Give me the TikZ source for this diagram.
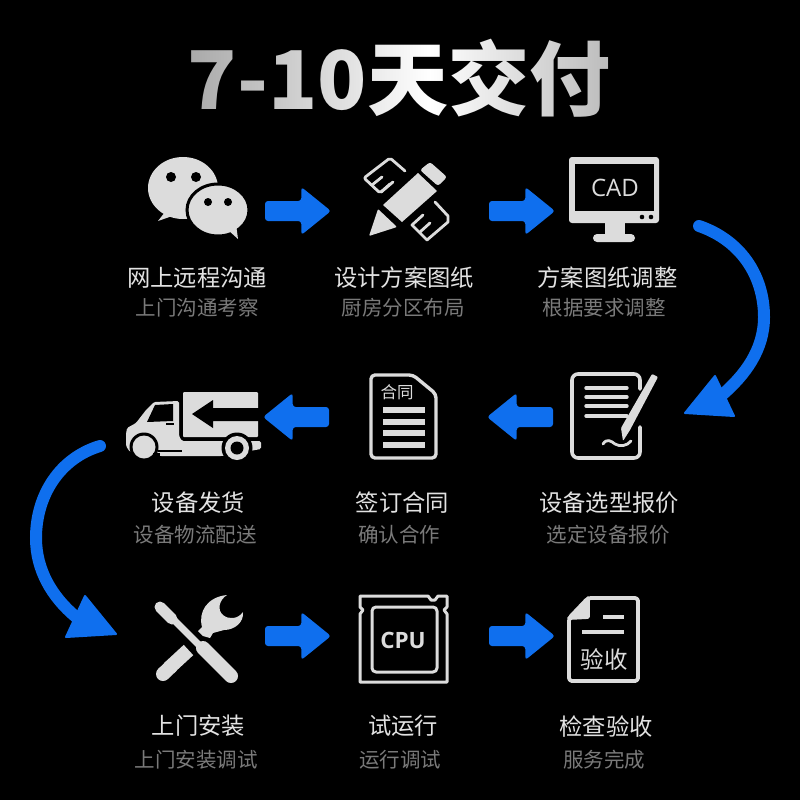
\documentclass[tikz,border=0pt]{standalone}
\usepackage{fontspec}
\setmainfont{Noto Sans CJK SC}
\newfontfamily\latinsans{Open Sans}
\usetikzlibrary{fadings,calc}
\definecolor{iconc}{HTML}{DCDCDC}
\definecolor{flow}{HTML}{0F6FEE}
\definecolor{maintxt}{HTML}{E2E2E2}
\definecolor{subtxt}{HTML}{7A7A7A}
\tikzfading[name=titleleft,left color=transparent!65,right color=transparent!100]
\tikzfading[name=titleright,left color=transparent!100,right color=transparent!72]
\tikzset{
 mainlabel/.style={text=maintxt,font=\fontsize{23.3}{26}\selectfont,inner sep=0pt},
 sublabel/.style={text=subtxt,font=\fontsize{20.5}{24}\selectfont,inner sep=0pt},
 flowblock/.style={fill=flow,rounded corners=3pt},
 bendarrow/.style={draw=flow,line width=12pt,line cap=round},
 bendhead/.style={fill=flow,draw=flow,line width=2pt,line join=round},
 iconfill/.style={fill=iconc},
 iconline/.style={draw=iconc,line width=3.2pt,line join=round,line cap=round},
 cutout/.style={fill=black}
}
\newcommand{\flowarrow}[2]{%
 \path (#1) -- (#2) coordinate[pos=.55] (hb);
 \fill[flowblock] ($(#1)!10pt!90:(#2)$) -- ($(hb)!10pt!90:(#2)$) -- ($(hb)!24pt!90:(#2)$) -- (#2) -- ($(hb)!24pt!-90:(#2)$) -- ($(hb)!10pt!-90:(#2)$) -- ($(#1)!10pt!-90:(#2)$) -- cycle;}
\begin{document}
\begin{tikzpicture}[x=1pt,y=-1pt]
\useasboundingbox (0,0) rectangle (800,800);
\fill[black] (0,0) rectangle (800,800);
% title
\node[text=white,font=\fontsize{81}{88}\bfseries\selectfont,inner sep=0pt] (title) at (399,78) {7-10天交付};
\fill[black,path fading=titleleft] (180,30) rectangle (430,130);
\fill[black,path fading=titleright] (430,30) rectangle (620,130);

% anchors of the connectors
\coordinate (a1s) at (265,211); \coordinate (a1e) at (331,211);
\coordinate (a2s) at (489,211); \coordinate (a2e) at (555,211);
\coordinate (a3s) at (553,417); \coordinate (a3e) at (487,417);
\coordinate (a4s) at (329,417); \coordinate (a4e) at (263,417);
\coordinate (a5s) at (265,636); \coordinate (a5e) at (331,636);
\coordinate (a6s) at (489,636); \coordinate (a6e) at (555,636);
\coordinate (b1s) at (699,226); \coordinate (b1e) at (722,395);
\coordinate (b2s) at (100,446); \coordinate (b2e) at (76,617);
\flowarrow{a1s}{a1e}
\flowarrow{a2s}{a2e}
\flowarrow{a3s}{a3e}
\flowarrow{a4s}{a4e}
\flowarrow{a5s}{a5e}
\flowarrow{a6s}{a6e}
\draw[bendarrow] (b1s) .. controls (740,240) and (764,275) .. (764,317) .. controls (764,350) and (745,375) .. (b1e);
\fill[bendhead] (715,376) -- (685,413) -- (734,416) -- cycle;
\draw[bendarrow] (b2s) .. controls (60,458) and (36,495) .. (36,538) .. controls (36,570) and (52,597) .. (b2e);
\fill[bendhead] (85,596) -- (66,637) -- (116,634) -- cycle;

% wechat
\fill[iconfill] (183,188) ellipse [x radius=35,y radius=31];
\fill[iconfill] (165,212) -- (158,221) -- (178,214) -- cycle;
\fill[cutout] (171,177) circle (5); \fill[cutout] (196,177) circle (5);
\draw[iconfill,draw=black,line width=3pt] (218,210) ellipse [x radius=31,y radius=26];
\fill[iconfill] (228,230) -- (238,239) -- (236,224) -- cycle;
\fill[cutout] (208,202) circle (4); \fill[cutout] (228,202) circle (4);

% pencil and rulers
\fill[iconfill,rounded corners=1pt] (369,236) -- (378,209) -- (397,227) -- cycle;
\fill[iconfill] (383,205) -- (402,222) -- (437,191) -- (418,173) -- cycle;
\fill[iconfill,rounded corners=2.5pt] (420,170) -- (430,162) -- (447,177) -- (438,186) -- cycle;
\draw[iconline,line width=2.8pt,rounded corners=2pt] (405,171) -- (390,158) -- (364,178) -- (380,193) -- (393,182);
\draw[iconline,line width=2.8pt] (372,185) -- (382,177) (381,192) -- (390,184);
\draw[iconline,line width=2.8pt] (435,202) -- (448,216) -- (448,222) -- (427,240) -- (412,225) -- (423,215);
\draw[iconline,line width=2.8pt] (420,232) -- (430,223);

% monitor
\fill[iconfill,rounded corners=3pt] (569,157) rectangle (659,223);
\fill[cutout] (575,164) rectangle (654,211);
\fill[iconfill] (605,222) rectangle (625,236);
\fill[iconfill,rounded corners=4pt] (593,234) rectangle (635,242);
\fill[cutout] (642,217) circle (2.3); \fill[cutout] (651,217) circle (2.3);
\node[text=iconc,font=\latinsans\fontsize{24}{26}\selectfont,inner sep=0pt] (cad) at (615,188) {CAD};

% quotation document with pen
\draw[iconline,line width=3.6pt,rounded corners=6pt] (640,389) -- (640,374) -- (572,374) -- (572,458) -- (640,458) -- (640,427);
\foreach \yy in {388,397,406,416} \draw[iconline,line width=3.4pt] (586,\yy) -- (627,\yy);
\fill[iconfill,rounded corners=1pt] (652,374) -- (658,377) -- (630,430) -- (623,441) -- (621,428) -- cycle;
\draw[iconline,line width=2.8pt] (603,444) .. controls (607,438) and (611,441) .. (615,444) .. controls (620,447) and (627,446) .. (631,441);

% contract
\draw[iconline,line width=3.4pt,rounded corners=4pt] (371,375) -- (413,375) -- (436,394) -- (436,458) -- (371,458) -- cycle;
\node[text=iconc,font=\fontsize{16.5}{18}\selectfont,inner sep=0pt] (hetong) at (397,392) {合同};
\foreach \yy in {410,422,433,445} \fill[iconfill] (383,\yy-3.2) rectangle (425,\yy+3.2);

% truck
\fill[iconfill,rounded corners=1pt] (183,392) rectangle (258,437);
\fill[cutout] (192,414) -- (213,400) -- (213,408) -- (259,408) -- (259,421) -- (213,421) -- (213,428) -- cycle;
\fill[iconfill,rounded corners=1.5pt] (126,434) -- (127,428) -- (136,423) -- (146,410) -- (154,402) -- (179,401) -- (179,436) -- (182,441) -- (261,441) -- (261,449) -- (222,456) -- (160,456) -- (130,452) -- (126,446) -- cycle;
\fill[cutout] (147,422) -- (155,405) -- (173,404) -- (173,421) -- cycle;
\fill[cutout] (166,422.5) rectangle (174,425);
\fill[cutout] (144,447) circle (14.5);
\fill[iconfill] (144,447) circle (11.5);
\fill[cutout] (237,448) circle (15.5);
\fill[iconfill] (237,448) circle (12);
\fill[cutout] (237,448) circle (6.5);
\draw[black,line width=1.5pt] (158,451) -- (182,451);
\fill[cutout] (153,456) rectangle (160,453);

% tools
\draw[iconc,line width=14pt] (169,668) -- (188.5,650);
\fill[iconfill] (163,674) circle (7);
\draw[iconc,line width=14pt] (163,674) -- (172,665.5);
\fill[iconfill] (198,631) -- (202,627) .. controls (198,612) and (207,597) .. (227,595) .. controls (219,600) and (217,610) .. (223,615) .. controls (229,620) and (238,619) .. (243,612) .. controls (244,622) and (235,630) .. (224,630) -- (213,633) -- (210,638) -- (203,636) -- cycle;
\draw[iconc,line width=11pt,line cap=round] (160,607) -- (172,619);
\draw[iconc,line width=7pt] (170,616) -- (204,650);
\draw[iconc,line width=14pt,line cap=round] (203,648) -- (231,676);

% cpu
\draw[iconline,line width=3pt,line cap=butt] (360,596) -- (428,596) -- (431,600) -- (435,600) -- (438,596) -- (447,596) -- (447,607) -- (444,610) -- (447,614) -- (447,682) -- (360,682) -- (360,614) -- (363,610) -- (360,607) -- cycle;
\draw[iconline,line width=3pt,rounded corners=4pt] (372,607) rectangle (437,672);
\node[text=iconc,font=\latinsans\bfseries\fontsize{22.5}{24}\selectfont,inner sep=0pt] (cpu) at (403,640) {CPU};

% acceptance document
\draw[iconline,line width=3.8pt,rounded corners=3pt] (588,598) -- (638,598) -- (638,681) -- (569,681) -- (569,618) -- cycle;
\draw[iconline,line width=3.8pt] (588,598) -- (588,617) -- (569,618);
\fill[iconfill] (588,598) -- (588,617) -- (570,617) -- cycle;
\draw[iconline,line width=4.2pt,line cap=butt] (603,617) -- (624,617) (582,632) -- (624,632);
\node[text=iconc,font=\fontsize{23.5}{25}\selectfont,inner sep=0pt] (yanshou) at (604,659) {验收};

% labels
\node[mainlabel] (l1) at (197,278) {网上远程沟通};
\node[sublabel]  (s1) at (197,308) {上门沟通考察};
\node[mainlabel] (l2) at (404,278) {设计方案图纸};
\node[sublabel]  (s2) at (403,308) {厨房分区布局};
\node[mainlabel] (l3) at (607.5,278) {方案图纸调整};
\node[sublabel]  (s3) at (604,308) {根据要求调整};
\node[mainlabel] (l4) at (198.5,503) {设备发货};
\node[sublabel]  (s4) at (195,535) {设备物流配送};
\node[mainlabel] (l5) at (402.5,503) {签订合同};
\node[sublabel]  (s5) at (399,535) {确认合作};
\node[mainlabel] (l6) at (609,503) {设备选型报价};
\node[sublabel]  (s6) at (608,535) {选定设备报价};
\node[mainlabel] (l7) at (198.5,726) {上门安装};
\node[sublabel]  (s7) at (196,760) {上门安装调试};
\node[mainlabel] (l8) at (403,726) {试运行};
\node[sublabel]  (s8) at (400,760) {运行调试};
\node[mainlabel] (l9) at (606,727) {检查验收};
\node[sublabel]  (s9) at (604,760) {服务完成};
\end{tikzpicture}
\end{document}
